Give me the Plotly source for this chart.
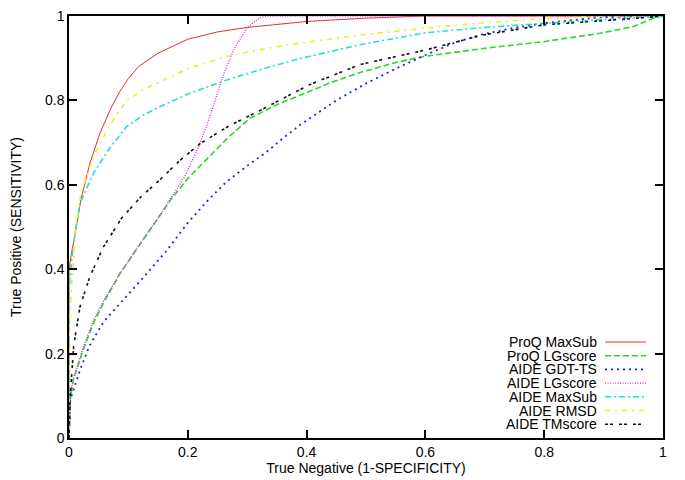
import plotly.graph_objects as go

# ---- data ----
proq_maxsub_x = [0, 0, 0.005, 0.01, 0.02, 0.035, 0.052, 0.07, 0.086, 0.1, 0.117, 0.15, 0.2, 0.249, 0.3, 0.4, 0.5, 0.6, 1.0]
proq_maxsub_y = [0, 0.40, 0.445, 0.48, 0.565, 0.65, 0.722, 0.78, 0.822, 0.852, 0.88, 0.912, 0.945, 0.962, 0.973, 0.987, 0.995, 1.0, 1.0]

proq_lgscore_x = [0, 0.002, 0.007, 0.024, 0.041, 0.06, 0.086, 0.12, 0.153, 0.17, 0.2, 0.237, 0.27, 0.305, 0.35, 0.394, 0.44, 0.49, 0.55, 0.602, 0.697, 0.798, 0.894, 0.95, 0.984, 1.0]
proq_lgscore_y = [0, 0.09, 0.137, 0.209, 0.272, 0.325, 0.39, 0.46, 0.525, 0.562, 0.615, 0.667, 0.715, 0.758, 0.79, 0.815, 0.842, 0.866, 0.89, 0.905, 0.923, 0.939, 0.959, 0.975, 0.995, 1.0]

aide_gdt_x = [0, 0.002, 0.0185, 0.035, 0.058, 0.09, 0.125, 0.165, 0.2, 0.235, 0.265, 0.3, 0.33, 0.36, 0.389, 0.45, 0.5, 0.55, 0.599, 0.65, 0.697, 0.75, 0.8, 0.894, 1.0]
aide_gdt_y = [0, 0.09, 0.161, 0.22, 0.275, 0.325, 0.38, 0.445, 0.51, 0.565, 0.607, 0.645, 0.675, 0.71, 0.742, 0.80, 0.84, 0.875, 0.907, 0.937, 0.957, 0.972, 0.983, 0.997, 1.0]

aide_lgscore_x = [0, 0.002, 0.007, 0.024, 0.041, 0.06, 0.086, 0.12, 0.153, 0.17, 0.195, 0.215, 0.232, 0.246, 0.26, 0.277, 0.299, 0.318, 0.333, 1.0]
aide_lgscore_y = [0, 0.10, 0.14, 0.215, 0.278, 0.33, 0.39, 0.462, 0.527, 0.564, 0.62, 0.68, 0.74, 0.80, 0.86, 0.919, 0.971, 0.993, 1.0, 1.0]

aide_maxsub_x = [0, 0, 0.0045, 0.01, 0.0185, 0.041, 0.07, 0.097, 0.125, 0.153, 0.2, 0.26, 0.32, 0.385, 0.49, 0.599, 0.7, 0.8, 0.9, 0.978, 1.0]
aide_maxsub_y = [0, 0.35, 0.42, 0.485, 0.556, 0.627, 0.69, 0.738, 0.765, 0.785, 0.815, 0.846, 0.872, 0.898, 0.932, 0.96, 0.973, 0.983, 0.992, 0.998, 1.0]

aide_rmsd_x = [0, 0, 0.005, 0.012, 0.02, 0.041, 0.07, 0.097, 0.125, 0.153, 0.2, 0.265, 0.32, 0.385, 0.49, 0.599, 0.7, 0.8, 0.9, 1.0]
aide_rmsd_y = [0, 0.25, 0.38, 0.50, 0.58, 0.667, 0.745, 0.80, 0.825, 0.844, 0.875, 0.904, 0.92, 0.935, 0.955, 0.971, 0.984, 0.994, 1.0, 1.0]

aide_tmscore_x = [0, 0.002, 0.008, 0.0185, 0.035, 0.058, 0.089, 0.12, 0.153, 0.187, 0.221, 0.27, 0.32, 0.406, 0.49, 0.599, 0.697, 0.8, 0.95, 1.0]
aide_tmscore_y = [0, 0.098, 0.22, 0.311, 0.382, 0.453, 0.522, 0.57, 0.612, 0.658, 0.698, 0.74, 0.775, 0.838, 0.885, 0.919, 0.955, 0.979, 0.994, 1.0]

tick_vals = [0, 0.2, 0.4, 0.6, 0.8, 1]
tick_text = ["0", "0.2", "0.4", "0.6", "0.8", "1"]

series = [
    ("ProQ MaxSub", proq_maxsub_x, proq_maxsub_y, "#e8302a", "solid", 1.0),
    ("ProQ LGscore", proq_lgscore_x, proq_lgscore_y, "#22dd22", "6px,3px", 1.6),
    ("AIDE GDT-TS", aide_gdt_x, aide_gdt_y, "#2222dd", "2px,4px", 1.8),
    ("AIDE LGscore", aide_lgscore_x, aide_lgscore_y, "#ee22ee", "1px,1.5px", 1.4),
    ("AIDE MaxSub", aide_maxsub_x, aide_maxsub_y, "#22dddd", "6px,3px,2px,3px", 1.6),
    ("AIDE RMSD", aide_rmsd_x, aide_rmsd_y, "#eeee22", "5px,5px,2px,5px", 1.6),
    ("AIDE TMscore", aide_tmscore_x, aide_tmscore_y, "#111111", "3px,2px,3px,6px", 1.6),
]

# page body has an 8px margin, so the figure is drawn 8px right/down
OFF = 8
FW, FH = 685 - OFF, 480 - OFF
L, R, T, B = 69 - OFF, 685 - 663, 16 - OFF, 480 - 438
PW, PH = FW - L - R, FH - T - B

fig = go.Figure()
for name, xs, ys, color, dash, w in series:
    fig.add_trace(go.Scatter(x=xs, y=ys, mode="lines", name=name,
                             line=dict(color=color, dash=dash, width=w),
                             showlegend=False, cliponaxis=True))

# custom legend (text left of sample), bottom-right inside plot
row_h = 13.7 / PH
top_y = (438 - 342) / PH
for i, (name, xs, ys, color, dash, w) in enumerate(series):
    yy = top_y - i * row_h
    fig.add_annotation(x=(598 - 69) / PW, y=yy, xref="paper", yref="paper",
                       text=name, showarrow=False, xanchor="right", yanchor="middle",
                       borderpad=0, font=dict(size=14, color="#000"))
    fig.add_shape(type="line", xref="paper", yref="paper",
                  x0=(605 - 69) / PW, x1=(646 - 69) / PW, y0=yy, y1=yy,
                  line=dict(color=color, dash=dash, width=w))

axis_common = dict(showgrid=False, zeroline=False, showline=True, linecolor="#000",
                   linewidth=1.5, mirror="ticks", ticks="inside", ticklen=8,
                   tickcolor="#000", tickwidth=1.5, tickfont=dict(size=14, color="#000"),
                   tickvals=tick_vals, ticktext=tick_text, automargin=False,
                   ticklabeloverflow="allow")

fig.update_xaxes(range=[0, 1], title=dict(text="True Negative (1-SPECIFICITY)", font=dict(size=14), standoff=2), **axis_common)
fig.update_yaxes(range=[0, 1], title=dict(text="True Positive (SENSITIVITY)", font=dict(size=14), standoff=26), **axis_common)

fig.update_layout(width=FW, height=FH, margin=dict(l=L, r=R, t=T, b=B),
                  plot_bgcolor="white", paper_bgcolor="white",
                  font=dict(family="Liberation Sans, Arial, sans-serif", color="#000"))

fig.write_html("out.html")
